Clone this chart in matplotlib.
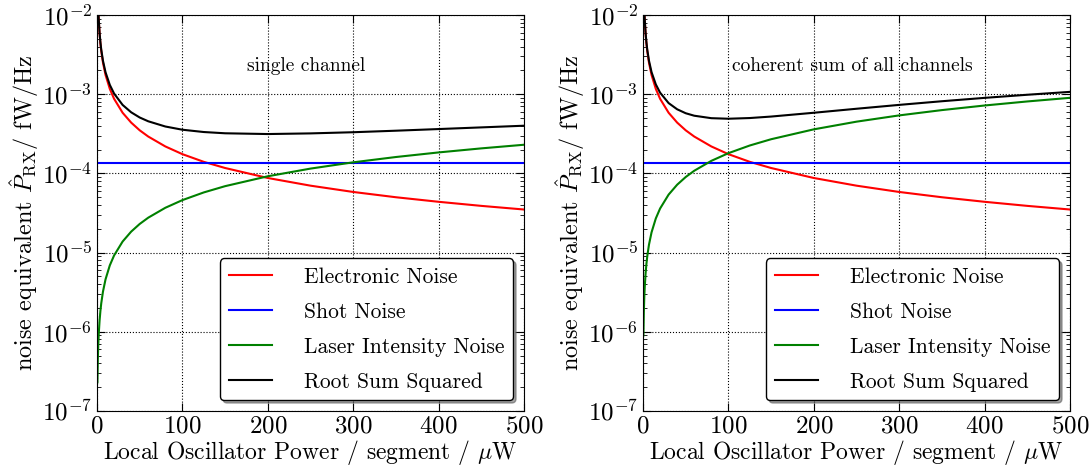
import matplotlib
matplotlib.use("Agg")
import matplotlib.pyplot as plt

plt.rcParams['font.family'] = ['cmr10', 'DejaVu Serif']
plt.rcParams['mathtext.fontset'] = 'cm'
plt.rcParams['axes.formatter.use_mathtext'] = True
plt.rcParams['axes.unicode_minus'] = False

# LO power per segment (uW)
lo_power = [0.5, 1, 1.5, 2, 3, 4, 5, 7, 10, 15, 20, 30, 40, 50, 60, 80, 100,
            125, 150, 200, 250, 300, 350, 400, 450, 500]

electronic = [3.5e-2, 1.75e-2, 1.167e-2, 8.75e-3, 5.83e-3, 4.375e-3, 3.5e-3, 2.5e-3,
              1.75e-3, 1.167e-3, 8.75e-4, 5.83e-4, 4.38e-4, 3.5e-4, 2.92e-4, 2.19e-4,
              1.75e-4, 1.4e-4, 1.17e-4, 8.75e-5, 7.0e-5, 5.83e-5, 5.0e-5, 4.38e-5,
              3.89e-5, 3.5e-5]

shot_x = [0, 500]
shot = [1.35e-4, 1.35e-4]

laser_single = [2.3e-7, 4.6e-7, 6.9e-7, 9.2e-7, 1.38e-6, 1.84e-6, 2.3e-6, 3.22e-6,
                4.6e-6, 6.9e-6, 9.2e-6, 1.38e-5, 1.84e-5, 2.3e-5, 2.76e-5, 3.68e-5,
                4.6e-5, 5.75e-5, 6.9e-5, 9.2e-5, 1.15e-4, 1.38e-4, 1.61e-4, 1.84e-4,
                2.07e-4, 2.3e-4]
total_single = [3.51e-2, 1.764e-2, 1.18e-2, 8.89e-3, 5.97e-3, 4.51e-3, 3.64e-3, 2.64e-3,
                1.89e-3, 1.31e-3, 1.019e-3, 7.32e-4, 5.91e-4, 5.08e-4, 4.55e-4, 3.91e-4,
                3.56e-4, 3.33e-4, 3.21e-4, 3.14e-4, 3.2e-4, 3.31e-4, 3.46e-4, 3.63e-4,
                3.81e-4, 4.0e-4]

laser_coherent = [9e-7, 1.8e-6, 2.7e-6, 3.6e-6, 5.4e-6, 7.2e-6, 9e-6, 1.26e-5,
                  1.8e-5, 2.7e-5, 3.6e-5, 5.4e-5, 7.2e-5, 9e-5, 1.08e-4, 1.44e-4,
                  1.8e-4, 2.25e-4, 2.7e-4, 3.6e-4, 4.5e-4, 5.4e-4, 6.3e-4, 7.2e-4,
                  8.1e-4, 9.0e-4]
total_coherent = [3.51e-2, 1.764e-2, 1.18e-2, 8.89e-3, 5.97e-3, 4.52e-3, 3.64e-3, 2.65e-3,
                  1.90e-3, 1.33e-3, 1.046e-3, 7.72e-4, 6.45e-4, 5.75e-4, 5.35e-4, 4.98e-4,
                  4.9e-4, 5.0e-4, 5.22e-4, 5.83e-4, 6.55e-4, 7.33e-4, 8.15e-4, 8.99e-4,
                  9.84e-4, 1.07e-3]

titles = ['single channel', 'coherent sum of all channels']
lasers = [laser_single, laser_coherent]
totals = [total_single, total_coherent]

fig = plt.figure(figsize=(10.92, 4.71), dpi=100)
lefts = [97 / 1092, 643 / 1092]

for i in range(2):
    ax = fig.add_axes([lefts[i], 1 - 411 / 471, 427 / 1092, 396 / 471])
    ax.plot(lo_power, electronic, color='red', lw=1.5, label='Electronic Noise')
    ax.plot(shot_x, shot, color='blue', lw=1.5, label='Shot Noise')
    ax.plot(lo_power, lasers[i], color='green', lw=1.5, label='Laser Intensity Noise')
    ax.plot(lo_power, totals[i], color='black', lw=1.5, label='Root Sum Squared')
    ax.set_yscale('log')
    ax.set_xlim(0, 500)
    ax.set_ylim(1e-7, 1e-2)
    ax.set_xticks([0, 100, 200, 300, 400, 500])
    ax.grid(True, which='major', color='black', linestyle=':', lw=0.8)
    ax.tick_params(which='both', direction='in', top=True, right=True, labelsize=18)
    ax.tick_params(which='major', length=6)
    ax.tick_params(which='minor', length=3)
    ax.set_xlabel(r'Local Oscillator Power / segment / $\mu$W', fontsize=17, labelpad=0)
    ax.set_ylabel(r'noise equivalent $\hat{P}_{\rm RX}$/ fW/Hz', fontsize=17.5, labelpad=1)
    ax.text(0.49, 0.871, titles[i], transform=ax.transAxes, ha='center', va='center',
            fontsize=14)
    leg = ax.legend(loc='lower right', fontsize=15.5, fancybox=True, shadow=True,
                    framealpha=1, edgecolor='black', handlelength=2.0,
                    handletextpad=1.5, borderaxespad=0.5, labelspacing=0.72)
    leg.get_frame().set_linewidth(1.0)

fig.savefig('out.png', dpi=100)
